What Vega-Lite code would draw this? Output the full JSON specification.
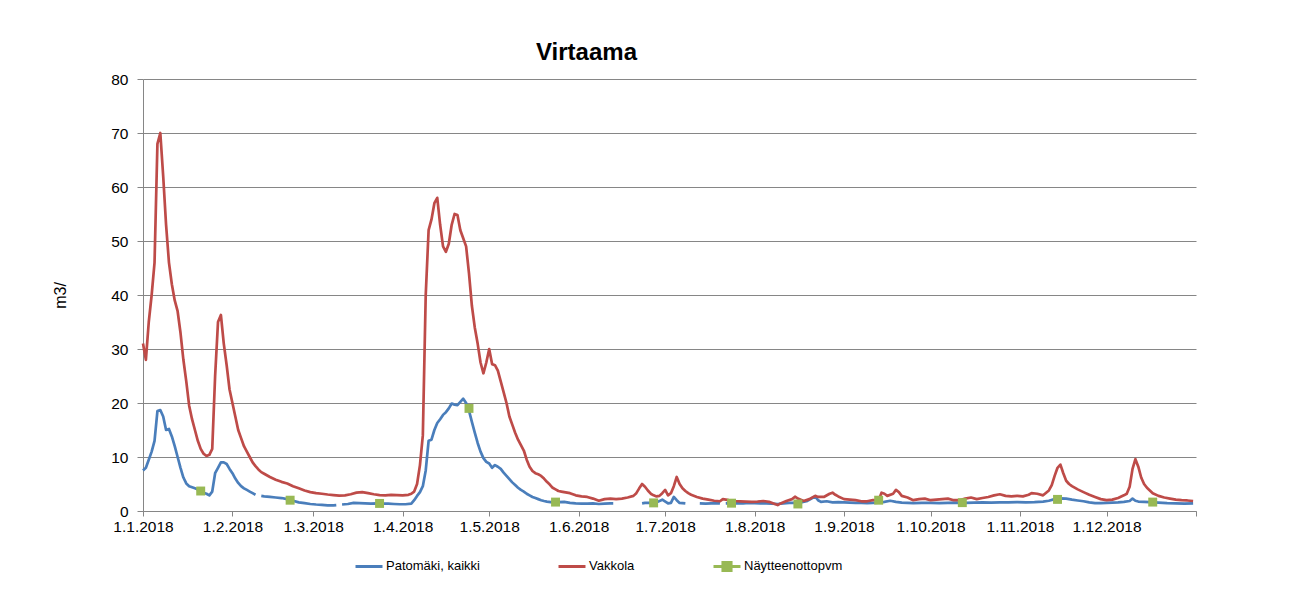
{
  "$schema": "https://vega.github.io/schema/vega-lite/v6.json",
  "width": 1053,
  "height": 432,
  "autosize": {"type": "none"},
  "padding": {"left": 143, "top": 79, "right": 95, "bottom": 86},
  "background": "white",
  "config": {
    "font": "Liberation Sans",
    "view": {"stroke": null},
    "axis": {"labelColor": "#000000", "titleColor": "#000000", "domainColor": "#868686", "tickColor": "#868686", "gridColor": "#868686", "labelFont": "Liberation Sans", "titleFont": "Liberation Sans"}
  },
  "title": {"text": "Virtaama", "fontSize": 24, "font": "Liberation Sans", "fontWeight": "bold", "color": "#000000", "anchor": "middle", "dx": -83, "baseline": "alphabetic", "offset": -12},
  "datasets": {
    "patomaki": [
      {"d":"2018-01-01","v":7.5},{"d":"2018-01-02","v":8},{"d":"2018-01-03","v":9.5},{"d":"2018-01-04","v":11},{"d":"2018-01-05","v":13},{"d":"2018-01-06","v":18.5},{"d":"2018-01-07","v":18.7},{"d":"2018-01-08","v":17.5},{"d":"2018-01-09","v":15},{"d":"2018-01-10","v":15.2},{"d":"2018-01-11","v":13.8},{"d":"2018-01-12","v":12},{"d":"2018-01-13","v":10},{"d":"2018-01-14","v":8},{"d":"2018-01-15","v":6.2},{"d":"2018-01-16","v":5.1},{"d":"2018-01-17","v":4.6},{"d":"2018-01-18","v":4.4},{"d":"2018-01-19","v":4.2},{"d":"2018-01-20","v":4.0},{"d":"2018-01-21","v":3.8},{"d":"2018-01-22","v":3.4},{"d":"2018-01-23","v":3.2},{"d":"2018-01-24","v":2.9},{"d":"2018-01-25","v":3.6},{"d":"2018-01-26","v":7},{"d":"2018-01-27","v":8},{"d":"2018-01-28","v":9},{"d":"2018-01-29","v":9},{"d":"2018-01-30","v":8.7},{"d":"2018-01-31","v":7.8},
      {"d":"2018-02-01","v":7},{"d":"2018-02-02","v":6},{"d":"2018-02-03","v":5.2},{"d":"2018-02-04","v":4.6},{"d":"2018-02-05","v":4.2},{"d":"2018-02-06","v":3.9},{"d":"2018-02-07","v":3.6},{"d":"2018-02-08","v":3.3},{"d":"2018-02-09","v":3.0},{"d":"2018-02-10","v":null},{"d":"2018-02-11","v":2.8},{"d":"2018-02-12","v":2.7},{"d":"2018-02-14","v":2.6},{"d":"2018-02-16","v":2.5},{"d":"2018-02-18","v":2.4},{"d":"2018-02-20","v":2.2},{"d":"2018-02-22","v":1.9},{"d":"2018-02-24","v":1.6},{"d":"2018-02-26","v":1.45},{"d":"2018-02-28","v":1.3},
      {"d":"2018-03-02","v":1.2},{"d":"2018-03-04","v":1.15},{"d":"2018-03-06","v":1.05},{"d":"2018-03-08","v":1.05},{"d":"2018-03-09","v":1.1},{"d":"2018-03-10","v":null},{"d":"2018-03-11","v":1.2},{"d":"2018-03-13","v":1.3},{"d":"2018-03-15","v":1.5},{"d":"2018-03-17","v":1.45},{"d":"2018-03-19","v":1.4},{"d":"2018-03-21","v":1.35},{"d":"2018-03-23","v":1.4},{"d":"2018-03-25","v":1.35},{"d":"2018-03-27","v":1.35},{"d":"2018-03-29","v":1.3},{"d":"2018-03-31","v":1.25},
      {"d":"2018-04-02","v":1.25},{"d":"2018-04-04","v":1.35},{"d":"2018-04-05","v":2.0},{"d":"2018-04-06","v":2.8},{"d":"2018-04-07","v":3.5},{"d":"2018-04-08","v":4.6},{"d":"2018-04-09","v":7.5},{"d":"2018-04-10","v":13},{"d":"2018-04-11","v":13.2},{"d":"2018-04-12","v":15},{"d":"2018-04-13","v":16.3},{"d":"2018-04-14","v":17},{"d":"2018-04-15","v":17.8},{"d":"2018-04-16","v":18.3},{"d":"2018-04-17","v":19},{"d":"2018-04-18","v":19.9},{"d":"2018-04-19","v":19.7},{"d":"2018-04-20","v":19.6},{"d":"2018-04-21","v":20.2},{"d":"2018-04-22","v":20.8},{"d":"2018-04-23","v":20},{"d":"2018-04-24","v":18.6},{"d":"2018-04-25","v":16.5},{"d":"2018-04-26","v":14.5},{"d":"2018-04-27","v":12.6},{"d":"2018-04-28","v":11},{"d":"2018-04-29","v":9.8},{"d":"2018-04-30","v":9.1},
      {"d":"2018-05-01","v":8.8},{"d":"2018-05-02","v":8.0},{"d":"2018-05-03","v":8.5},{"d":"2018-05-04","v":8.2},{"d":"2018-05-05","v":7.8},{"d":"2018-05-06","v":7.1},{"d":"2018-05-07","v":6.5},{"d":"2018-05-08","v":5.9},{"d":"2018-05-09","v":5.3},{"d":"2018-05-10","v":4.8},{"d":"2018-05-11","v":4.3},{"d":"2018-05-12","v":3.9},{"d":"2018-05-13","v":3.6},{"d":"2018-05-14","v":3.2},{"d":"2018-05-15","v":2.9},{"d":"2018-05-16","v":2.6},{"d":"2018-05-17","v":2.4},{"d":"2018-05-18","v":2.2},{"d":"2018-05-19","v":2.0},{"d":"2018-05-20","v":1.85},{"d":"2018-05-21","v":1.75},{"d":"2018-05-23","v":1.6},{"d":"2018-05-25","v":1.65},{"d":"2018-05-27","v":1.7},{"d":"2018-05-29","v":1.5},{"d":"2018-05-31","v":1.4},
      {"d":"2018-06-02","v":1.35},{"d":"2018-06-04","v":1.35},{"d":"2018-06-06","v":1.4},{"d":"2018-06-08","v":1.3},{"d":"2018-06-10","v":1.35},{"d":"2018-06-12","v":1.4},{"d":"2018-06-13","v":1.4},{"d":"2018-06-14","v":null},{"d":"2018-06-23","v":1.4},{"d":"2018-06-24","v":1.5},{"d":"2018-06-26","v":1.5},{"d":"2018-06-28","v":1.6},{"d":"2018-06-30","v":2.1},
      {"d":"2018-07-02","v":1.4},{"d":"2018-07-03","v":1.5},{"d":"2018-07-04","v":2.6},{"d":"2018-07-05","v":2.0},{"d":"2018-07-06","v":1.5},{"d":"2018-07-08","v":1.4},{"d":"2018-07-09","v":null},{"d":"2018-07-13","v":1.4},{"d":"2018-07-15","v":1.35},{"d":"2018-07-17","v":1.4},{"d":"2018-07-19","v":1.45},{"d":"2018-07-20","v":1.4},{"d":"2018-07-21","v":null},{"d":"2018-07-22","v":1.4},{"d":"2018-07-24","v":1.45},{"d":"2018-07-26","v":1.4},{"d":"2018-07-28","v":1.4},{"d":"2018-07-30","v":1.5},
      {"d":"2018-08-01","v":1.45},{"d":"2018-08-03","v":1.4},{"d":"2018-08-05","v":1.4},{"d":"2018-08-07","v":1.35},{"d":"2018-08-09","v":1.3},{"d":"2018-08-11","v":1.4},{"d":"2018-08-13","v":1.5},{"d":"2018-08-15","v":1.5},{"d":"2018-08-17","v":1.6},{"d":"2018-08-19","v":1.8},{"d":"2018-08-21","v":2.4},{"d":"2018-08-22","v":2.7},{"d":"2018-08-23","v":2.0},{"d":"2018-08-24","v":1.7},{"d":"2018-08-26","v":1.8},{"d":"2018-08-28","v":1.6},{"d":"2018-08-30","v":1.65},
      {"d":"2018-09-01","v":1.6},{"d":"2018-09-03","v":1.55},{"d":"2018-09-05","v":1.5},{"d":"2018-09-07","v":1.5},{"d":"2018-09-09","v":1.45},{"d":"2018-09-11","v":1.5},{"d":"2018-09-13","v":1.55},{"d":"2018-09-15","v":1.7},{"d":"2018-09-17","v":1.9},{"d":"2018-09-19","v":1.7},{"d":"2018-09-21","v":1.55},{"d":"2018-09-23","v":1.5},{"d":"2018-09-25","v":1.45},{"d":"2018-09-28","v":1.5},
      {"d":"2018-10-01","v":1.5},{"d":"2018-10-04","v":1.45},{"d":"2018-10-07","v":1.5},{"d":"2018-10-10","v":1.55},{"d":"2018-10-13","v":1.5},{"d":"2018-10-16","v":1.55},{"d":"2018-10-19","v":1.6},{"d":"2018-10-22","v":1.55},{"d":"2018-10-25","v":1.6},{"d":"2018-10-28","v":1.6},{"d":"2018-10-31","v":1.65},
      {"d":"2018-11-03","v":1.6},{"d":"2018-11-06","v":1.65},{"d":"2018-11-09","v":1.75},{"d":"2018-11-11","v":1.9},{"d":"2018-11-13","v":2.2},{"d":"2018-11-15","v":2.35},{"d":"2018-11-17","v":2.3},{"d":"2018-11-19","v":2.1},{"d":"2018-11-21","v":1.95},{"d":"2018-11-23","v":1.8},{"d":"2018-11-25","v":1.6},{"d":"2018-11-27","v":1.45},{"d":"2018-11-29","v":1.45},
      {"d":"2018-12-01","v":1.5},{"d":"2018-12-03","v":1.55},{"d":"2018-12-05","v":1.6},{"d":"2018-12-07","v":1.7},{"d":"2018-12-09","v":1.85},{"d":"2018-12-10","v":2.3},{"d":"2018-12-11","v":1.9},{"d":"2018-12-12","v":1.75},{"d":"2018-12-14","v":1.7},{"d":"2018-12-16","v":1.65},{"d":"2018-12-19","v":1.55},{"d":"2018-12-22","v":1.45},{"d":"2018-12-25","v":1.4},{"d":"2018-12-28","v":1.35},{"d":"2018-12-31","v":1.4}
    ],
    "vakkola": [
      {"d":"2018-01-01","v":31},{"d":"2018-01-02","v":28},{"d":"2018-01-03","v":35},{"d":"2018-01-04","v":40},{"d":"2018-01-05","v":46},{"d":"2018-01-06","v":68},{"d":"2018-01-07","v":70},{"d":"2018-01-08","v":62},{"d":"2018-01-09","v":53},{"d":"2018-01-10","v":46},{"d":"2018-01-11","v":42},{"d":"2018-01-12","v":39},{"d":"2018-01-13","v":37},{"d":"2018-01-14","v":33},{"d":"2018-01-15","v":28},{"d":"2018-01-16","v":24},{"d":"2018-01-17","v":19.5},{"d":"2018-01-18","v":17},{"d":"2018-01-19","v":15},{"d":"2018-01-20","v":13},{"d":"2018-01-21","v":11.5},{"d":"2018-01-22","v":10.6},{"d":"2018-01-23","v":10.2},{"d":"2018-01-24","v":10.4},{"d":"2018-01-25","v":11.5},{"d":"2018-01-26","v":25},{"d":"2018-01-27","v":35},{"d":"2018-01-28","v":36.3},{"d":"2018-01-29","v":31},{"d":"2018-01-30","v":27},{"d":"2018-01-31","v":22.5},
      {"d":"2018-02-01","v":20},{"d":"2018-02-02","v":17.5},{"d":"2018-02-03","v":15},{"d":"2018-02-04","v":13.5},{"d":"2018-02-05","v":12},{"d":"2018-02-06","v":11},{"d":"2018-02-07","v":10},{"d":"2018-02-08","v":9},{"d":"2018-02-09","v":8.3},{"d":"2018-02-10","v":7.7},{"d":"2018-02-11","v":7.2},{"d":"2018-02-12","v":6.9},{"d":"2018-02-14","v":6.3},{"d":"2018-02-16","v":5.8},{"d":"2018-02-18","v":5.4},{"d":"2018-02-20","v":5.1},{"d":"2018-02-22","v":4.6},{"d":"2018-02-24","v":4.2},{"d":"2018-02-26","v":3.8},{"d":"2018-02-28","v":3.5},
      {"d":"2018-03-02","v":3.3},{"d":"2018-03-04","v":3.2},{"d":"2018-03-06","v":3.05},{"d":"2018-03-08","v":2.95},{"d":"2018-03-10","v":2.85},{"d":"2018-03-12","v":2.9},{"d":"2018-03-14","v":3.1},{"d":"2018-03-16","v":3.4},{"d":"2018-03-18","v":3.5},{"d":"2018-03-20","v":3.3},{"d":"2018-03-22","v":3.1},{"d":"2018-03-24","v":2.95},{"d":"2018-03-26","v":2.9},{"d":"2018-03-28","v":3.0},{"d":"2018-03-30","v":2.95},
      {"d":"2018-04-01","v":2.9},{"d":"2018-04-03","v":3.0},{"d":"2018-04-04","v":3.2},{"d":"2018-04-05","v":3.6},{"d":"2018-04-06","v":5},{"d":"2018-04-07","v":8.5},{"d":"2018-04-08","v":14},{"d":"2018-04-09","v":40},{"d":"2018-04-10","v":52},{"d":"2018-04-11","v":54},{"d":"2018-04-12","v":57},{"d":"2018-04-13","v":58},{"d":"2018-04-14","v":53},{"d":"2018-04-15","v":49},{"d":"2018-04-16","v":48},{"d":"2018-04-17","v":49.5},{"d":"2018-04-18","v":53},{"d":"2018-04-19","v":55},{"d":"2018-04-20","v":54.8},{"d":"2018-04-21","v":52},{"d":"2018-04-22","v":50.5},{"d":"2018-04-23","v":49},{"d":"2018-04-24","v":44},{"d":"2018-04-25","v":38},{"d":"2018-04-26","v":34},{"d":"2018-04-27","v":31},{"d":"2018-04-28","v":27.5},{"d":"2018-04-29","v":25.5},{"d":"2018-04-30","v":27.5},
      {"d":"2018-05-01","v":30},{"d":"2018-05-02","v":27.2},{"d":"2018-05-03","v":27},{"d":"2018-05-04","v":26},{"d":"2018-05-05","v":24},{"d":"2018-05-06","v":22},{"d":"2018-05-07","v":20},{"d":"2018-05-08","v":17.5},{"d":"2018-05-09","v":16},{"d":"2018-05-10","v":14.5},{"d":"2018-05-11","v":13.2},{"d":"2018-05-12","v":12.2},{"d":"2018-05-13","v":11.2},{"d":"2018-05-14","v":9.5},{"d":"2018-05-15","v":8.2},{"d":"2018-05-16","v":7.4},{"d":"2018-05-17","v":7.0},{"d":"2018-05-18","v":6.8},{"d":"2018-05-19","v":6.5},{"d":"2018-05-20","v":6.0},{"d":"2018-05-21","v":5.4},{"d":"2018-05-22","v":4.9},{"d":"2018-05-23","v":4.3},{"d":"2018-05-24","v":4.0},{"d":"2018-05-25","v":3.7},{"d":"2018-05-26","v":3.6},{"d":"2018-05-27","v":3.5},{"d":"2018-05-29","v":3.3},{"d":"2018-05-31","v":2.9},
      {"d":"2018-06-02","v":2.7},{"d":"2018-06-04","v":2.6},{"d":"2018-06-06","v":2.3},{"d":"2018-06-08","v":1.9},{"d":"2018-06-10","v":2.2},{"d":"2018-06-12","v":2.3},{"d":"2018-06-14","v":2.2},{"d":"2018-06-16","v":2.3},{"d":"2018-06-18","v":2.5},{"d":"2018-06-20","v":2.8},{"d":"2018-06-21","v":3.3},{"d":"2018-06-22","v":4.2},{"d":"2018-06-23","v":5},{"d":"2018-06-24","v":4.5},{"d":"2018-06-25","v":3.8},{"d":"2018-06-26","v":3.2},{"d":"2018-06-27","v":2.9},{"d":"2018-06-28","v":2.7},{"d":"2018-06-29","v":2.8},{"d":"2018-06-30","v":3.3},
      {"d":"2018-07-01","v":3.9},{"d":"2018-07-02","v":2.9},{"d":"2018-07-03","v":3.3},{"d":"2018-07-04","v":4.6},{"d":"2018-07-05","v":6.3},{"d":"2018-07-06","v":5},{"d":"2018-07-07","v":4.2},{"d":"2018-07-08","v":3.7},{"d":"2018-07-09","v":3.3},{"d":"2018-07-10","v":3},{"d":"2018-07-12","v":2.6},{"d":"2018-07-14","v":2.3},{"d":"2018-07-16","v":2.1},{"d":"2018-07-18","v":1.9},{"d":"2018-07-20","v":1.8},{"d":"2018-07-21","v":2.2},{"d":"2018-07-23","v":2.0},{"d":"2018-07-25","v":1.85},{"d":"2018-07-27","v":1.8},{"d":"2018-07-29","v":1.75},{"d":"2018-07-31","v":1.7},
      {"d":"2018-08-02","v":1.75},{"d":"2018-08-04","v":1.85},{"d":"2018-08-06","v":1.7},{"d":"2018-08-08","v":1.3},{"d":"2018-08-09","v":1.1},{"d":"2018-08-10","v":1.4},{"d":"2018-08-12","v":1.85},{"d":"2018-08-14","v":2.2},{"d":"2018-08-15","v":2.65},{"d":"2018-08-16","v":2.3},{"d":"2018-08-18","v":1.85},{"d":"2018-08-20","v":2.2},{"d":"2018-08-22","v":2.8},{"d":"2018-08-23","v":2.6},{"d":"2018-08-25","v":2.6},{"d":"2018-08-27","v":3.2},{"d":"2018-08-28","v":3.4},{"d":"2018-08-29","v":3.0},{"d":"2018-08-30","v":2.7},
      {"d":"2018-09-01","v":2.2},{"d":"2018-09-03","v":2.1},{"d":"2018-09-05","v":2.0},{"d":"2018-09-07","v":1.8},{"d":"2018-09-09","v":1.8},{"d":"2018-09-11","v":2.0},{"d":"2018-09-13","v":2.0},{"d":"2018-09-14","v":3.4},{"d":"2018-09-15","v":3.2},{"d":"2018-09-16","v":2.8},{"d":"2018-09-18","v":3.2},{"d":"2018-09-19","v":3.9},{"d":"2018-09-20","v":3.5},{"d":"2018-09-21","v":2.8},{"d":"2018-09-23","v":2.5},{"d":"2018-09-25","v":2.0},{"d":"2018-09-27","v":2.2},{"d":"2018-09-29","v":2.3},
      {"d":"2018-10-01","v":2.0},{"d":"2018-10-03","v":2.1},{"d":"2018-10-05","v":2.2},{"d":"2018-10-07","v":2.3},{"d":"2018-10-09","v":2.0},{"d":"2018-10-11","v":2.0},{"d":"2018-10-13","v":2.3},{"d":"2018-10-15","v":2.5},{"d":"2018-10-17","v":2.2},{"d":"2018-10-19","v":2.4},{"d":"2018-10-21","v":2.6},{"d":"2018-10-23","v":2.9},{"d":"2018-10-25","v":3.1},{"d":"2018-10-27","v":2.8},{"d":"2018-10-29","v":2.7},{"d":"2018-10-31","v":2.8},
      {"d":"2018-11-02","v":2.7},{"d":"2018-11-04","v":3.0},{"d":"2018-11-05","v":3.3},{"d":"2018-11-07","v":3.2},{"d":"2018-11-09","v":2.9},{"d":"2018-11-11","v":3.8},{"d":"2018-11-12","v":4.8},{"d":"2018-11-13","v":6.5},{"d":"2018-11-14","v":8.0},{"d":"2018-11-15","v":8.6},{"d":"2018-11-16","v":7.0},{"d":"2018-11-17","v":5.6},{"d":"2018-11-18","v":5.0},{"d":"2018-11-19","v":4.6},{"d":"2018-11-21","v":4.0},{"d":"2018-11-23","v":3.5},{"d":"2018-11-25","v":3.0},{"d":"2018-11-27","v":2.6},{"d":"2018-11-29","v":2.2},
      {"d":"2018-12-01","v":2.0},{"d":"2018-12-03","v":2.1},{"d":"2018-12-05","v":2.4},{"d":"2018-12-07","v":2.9},{"d":"2018-12-08","v":3.2},{"d":"2018-12-09","v":4.5},{"d":"2018-12-10","v":7.8},{"d":"2018-12-11","v":9.6},{"d":"2018-12-12","v":8.2},{"d":"2018-12-13","v":6.2},{"d":"2018-12-14","v":5.0},{"d":"2018-12-15","v":4.3},{"d":"2018-12-17","v":3.3},{"d":"2018-12-19","v":2.8},{"d":"2018-12-21","v":2.5},{"d":"2018-12-23","v":2.3},{"d":"2018-12-25","v":2.1},{"d":"2018-12-27","v":2.0},{"d":"2018-12-29","v":1.95},{"d":"2018-12-31","v":1.85}
    ],
    "naytteet": [
      {"d":"2018-01-21","v":3.7},{"d":"2018-02-21","v":2.0},{"d":"2018-03-24","v":1.4},{"d":"2018-04-24","v":19.0},{"d":"2018-05-24","v":1.65},{"d":"2018-06-27","v":1.5},{"d":"2018-07-24","v":1.45},{"d":"2018-08-16","v":1.3},{"d":"2018-09-13","v":2.0},{"d":"2018-10-12","v":1.55},{"d":"2018-11-14","v":2.15},{"d":"2018-12-17","v":1.65}
    ]
  },
  "encoding": {
    "x": {
      "field": "d", "type": "temporal",
      "scale": {"type": "utc", "domain": [{"year": 2018, "month": 1, "date": 1, "utc": true}, {"year": 2019, "month": 1, "date": 1, "utc": true}]},
      "axis": {
        "title": null, "grid": false, "domain": true, "ticks": true, "tickSize": 5, "labelPadding": 3,
        "labelFontSize": 15.5, "labelAngle": 0, "labelOverlap": false, "labelFlush": false,
        "values": [
          {"year": 2018, "month": 1, "date": 1, "utc": true}, {"year": 2018, "month": 2, "date": 1, "utc": true},
          {"year": 2018, "month": 3, "date": 1, "utc": true}, {"year": 2018, "month": 4, "date": 1, "utc": true},
          {"year": 2018, "month": 5, "date": 1, "utc": true}, {"year": 2018, "month": 6, "date": 1, "utc": true},
          {"year": 2018, "month": 7, "date": 1, "utc": true}, {"year": 2018, "month": 8, "date": 1, "utc": true},
          {"year": 2018, "month": 9, "date": 1, "utc": true}, {"year": 2018, "month": 10, "date": 1, "utc": true},
          {"year": 2018, "month": 11, "date": 1, "utc": true}, {"year": 2018, "month": 12, "date": 1, "utc": true},
          {"year": 2019, "month": 1, "date": 1, "utc": true}
        ],
        "labelExpr": "utcFormat(datum.value, '%Y') == '2019' ? '' : utcFormat(datum.value, '%-d.%-m.%Y')"
      }
    },
    "y": {
      "field": "v", "type": "quantitative",
      "scale": {"domain": [0, 80], "nice": false, "zero": true},
      "axis": {
        "title": "m3/", "titleFontSize": 16, "titleFontWeight": "normal", "titlePadding": 42,
        "values": [0, 10, 20, 30, 40, 50, 60, 70, 80], "grid": true, "gridWidth": 1,
        "tickSize": 6, "labelPadding": 9, "labelFontSize": 15.5, "domain": true
      }
    }
  },
  "layer": [
    {
      "data": {"name": "patomaki"},
      "mark": {"type": "line", "strokeWidth": 2.7, "strokeJoin": "round", "strokeCap": "butt", "invalid": "break-paths-filter-domains"},
      "encoding": {
        "color": {
          "datum": "Patomäki, kaikki",
          "scale": {"domain": ["Patomäki, kaikki", "Vakkola", "Näytteenottopvm"], "range": ["#4A7EBB", "#BE4B48", "#98B954"]},
          "legend": {
            "orient": "none", "legendX": 211, "legendY": 472, "direction": "horizontal", "columns": 3,
            "title": null, "padding": 0, "columnPadding": 72, "labelOffset": 2,
            "labelFontSize": 13, "labelFont": "Liberation Sans", "labelColor": "#000000",
            "symbolSize": 729, "symbolStrokeWidth": 3, "symbolType": "M-1,0H1",
            "encode": {
              "symbols": {
                "update": {
                  "shape": {"signal": "datum.value === 'Näytteenottopvm' ? 'M-1,0H1M-0.3,-0.3H0.3V0.3H-0.3Z' : 'M-1,0H1M-1,-0.3L-1,-0.3M-1,0.3L-1,0.3'"},
                  "fill": {"signal": "datum.value === 'Näytteenottopvm' ? '#98B954' : 'transparent'"},
                  "stroke": {"scale": "color", "field": "value"},
                  "strokeWidth": {"value": 3},
                  "strokeCap": {"value": "butt"},
                  "opacity": {"value": 1}
                }
              }
            }
          }
        }
      }
    },
    {
      "data": {"name": "vakkola"},
      "mark": {"type": "line", "strokeWidth": 2.7, "strokeJoin": "round", "invalid": "break-paths-filter-domains"},
      "encoding": {"color": {"datum": "Vakkola"}}
    },
    {
      "data": {"name": "naytteet"},
      "mark": {"type": "square", "size": 80, "filled": true, "opacity": 1},
      "encoding": {"color": {"datum": "Näytteenottopvm"}}
    }
  ]
}
